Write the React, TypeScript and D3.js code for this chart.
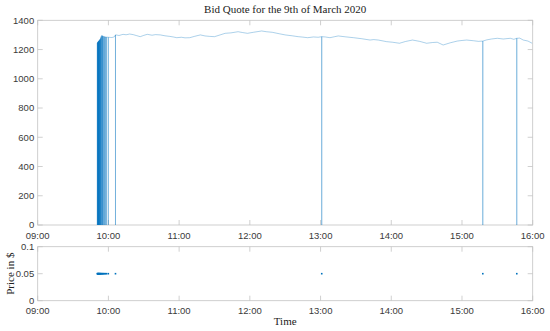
import React from 'react';
import * as d3 from 'd3';

const W = 550;
const H = 331;
const parse = d3.timeParse('%H:%M:%S');

// bid quote
const quoteTimes = [
  '09:55:40', '09:57:00', '09:59:40', '10:01:30', '10:03:00', '10:05:00', '10:06:30', '10:09:00',
  '10:12:24', '10:15:00', '10:18:00', '10:21:00', '10:24:00', '10:27:00', '10:30:00', '10:33:00',
  '10:37:00', '10:40:00', '10:44:00', '10:48:00', '10:52:00', '10:55:00', '10:58:00', '11:02:00',
  '11:05:00', '11:09:00', '11:13:00', '11:18:00', '11:22:00', '11:26:00', '11:30:00', '11:34:00',
  '11:39:00', '11:44:00', '11:50:00', '11:54:00', '11:58:00', '12:03:00', '12:10:00', '12:14:00',
  '12:19:00', '12:25:00', '12:30:00', '12:36:00', '12:41:00', '12:45:00', '12:49:00', '12:54:00',
  '12:58:00', '13:04:00', '13:08:00', '13:12:00', '13:15:00', '13:21:00', '13:28:00', '13:35:00',
  '13:42:00', '13:45:00', '13:49:00', '13:56:00', '14:01:00', '14:07:00', '14:12:00', '14:18:00',
  '14:24:00', '14:30:00', '14:35:00', '14:39:00', '14:44:00', '14:50:00', '14:56:00', '15:00:00',
  '15:04:00', '15:10:00', '15:14:00', '15:21:00', '15:25:00', '15:30:00', '15:35:00', '15:41:00',
  '15:44:00', '15:49:00', '15:52:00', '15:56:00', '15:59:30',
];
const quoteValues = [
  1293, 1288, 1284, 1283, 1282, 1287, 1300, 1296,
  1304, 1301, 1306, 1302, 1295, 1288, 1297, 1304,
  1298, 1302, 1300, 1294, 1290, 1286, 1281, 1284,
  1280, 1281, 1290, 1300, 1293, 1290, 1288, 1298,
  1311, 1314, 1322, 1316, 1311, 1318, 1327, 1322,
  1318, 1308, 1300, 1294, 1288, 1285, 1281, 1286,
  1284, 1286, 1281, 1288, 1293, 1287, 1281, 1274,
  1265, 1268, 1265, 1254, 1250, 1243, 1255, 1265,
  1256, 1243, 1248, 1250, 1231, 1246, 1258, 1262,
  1265, 1260, 1256, 1266, 1272, 1277, 1272, 1277,
  1270, 1278, 1265, 1258, 1243,
];

// moments where the bid quote drops to zero, with the level just before
const dropTimes = [
  '09:50:36', '09:50:48', '09:51:00', '09:51:12', '09:51:24', '09:51:36', '09:51:48', '09:52:00',
  '09:52:15', '09:52:30', '09:52:45', '09:53:00', '09:53:20', '09:53:40', '09:54:00', '09:54:30',
  '09:55:00', '09:55:20', '09:56:00', '09:56:40', '09:57:30', '09:58:20', '09:59:54', '10:06:00',
  '13:01:00', '15:17:40', '15:46:30',
];
const dropLevels = [
  1245, 1247, 1250, 1252, 1255, 1256, 1258, 1260,
  1262, 1265, 1268, 1270, 1275, 1282, 1290, 1296,
  1292, 1290, 1289, 1287, 1286, 1285, 1284, 1300,
  1288, 1258, 1277,
];
const priceValue = 0.05;

const yTicksTop = [0, 200, 400, 600, 800, 1000, 1200, 1400];
const yTicksBottom = [0, 0.05, 0.1];
const hourTicks = ['09:00:00', '10:00:00', '11:00:00', '12:00:00', '13:00:00', '14:00:00', '15:00:00', '16:00:00'];

const left = 37.7;
const right = 532.7;
const topPanel = { y0: 20.3, y1: 225 };
const botPanel = { y0: 246.7, y1: 300.7 };

const boxColor = '#c4c4c4';
const tickText = '#3a3a3a';
const lineBlue = '#0072BD';
const sans = 'Liberation Sans, Arial, sans-serif';
const serif = 'Liberation Serif, Times New Roman, serif';

type Pt = { t: Date; v: number };

export default function App() {
  const x = d3
    .scaleTime()
    .domain([parse('09:00:00')!, parse('16:00:00')!])
    .range([left, right]);
  const yTop = d3.scaleLinear().domain([0, 1400]).range([topPanel.y1, topPanel.y0]);
  const yBot = d3.scaleLinear().domain([0, 0.1]).range([botPanel.y1, botPanel.y0]);

  // merge quotes and the zero drops into one series
  const pts: Pt[] = quoteTimes.map((s, i) => ({ t: parse(s)!, v: quoteValues[i] }));
  dropTimes.forEach((s, i) => {
    const t = parse(s)!;
    pts.push({ t: new Date(t.getTime() - 400), v: dropLevels[i] });
    pts.push({ t, v: 0 });
    pts.push({ t: new Date(t.getTime() + 400), v: dropLevels[i] });
  });
  pts.sort((a, b) => a.t.getTime() - b.t.getTime());

  const line = d3
    .line<Pt>()
    .x(d => x(d.t))
    .y(d => yTop(d.v));

  const hours = hourTicks.map(s => parse(s)!);
  const fmt = d3.timeFormat('%H:%M');
  const tl = 5;

  const panelFrame = (y0: number, y1: number, yScale: d3.ScaleLinear<number, number>, ticks: number[], tf: (v: number) => string) => (
    <g>
      <rect x={left} y={y0} width={right - left} height={y1 - y0} fill="#fff" stroke={boxColor} strokeWidth={0.8} />
      {hours.map((h, i) => (
        <g key={'h' + i}>
          <line x1={x(h)} x2={x(h)} y1={y1} y2={y1 - tl} stroke={boxColor} strokeWidth={0.8} />
          <line x1={x(h)} x2={x(h)} y1={y0} y2={y0 + tl} stroke={boxColor} strokeWidth={0.8} />
          <text x={x(h)} y={y1 + 13.5} textAnchor="middle" fontFamily={sans} fontSize={9.5} fill={tickText}>
            {fmt(h)}
          </text>
        </g>
      ))}
      {ticks.map((v, i) => (
        <g key={'y' + i}>
          <line x1={left} x2={left + tl} y1={yScale(v)} y2={yScale(v)} stroke={boxColor} strokeWidth={0.8} />
          <line x1={right} x2={right - tl} y1={yScale(v)} y2={yScale(v)} stroke={boxColor} strokeWidth={0.8} />
          <text x={left - 3.5} y={yScale(v) + 3.3} textAnchor="end" fontFamily={sans} fontSize={9.5} fill={tickText}>
            {tf(v)}
          </text>
        </g>
      ))}
    </g>
  );

  return (
    <svg width={W} height={H} style={{ position: 'absolute', left: 0, top: 0 }}>
      <rect width={W} height={H} fill="#fff" />
      {panelFrame(topPanel.y0, topPanel.y1, yTop, yTicksTop, v => String(v))}
      <path d={line(pts) || ''} fill="none" stroke={lineBlue} strokeWidth={0.5} strokeOpacity={0.65} />
      <text x={(left + right) / 2} y={13} textAnchor="middle" fontFamily={serif} fontSize={11} fill="#222">
        Bid Quote for the 9th of March 2020
      </text>

      {panelFrame(botPanel.y0, botPanel.y1, yBot, yTicksBottom, v => (v === 0 ? '0' : String(v)))}
      {dropTimes.map((s, i) => (
        <rect
          key={'p' + i}
          x={x(parse(s)!) - 0.8}
          y={yBot(priceValue) - 0.8}
          width={1.6}
          height={1.6}
          fill={lineBlue}
        />
      ))}
      <text
        transform={`translate(13.5,${(botPanel.y0 + botPanel.y1) / 2}) rotate(-90)`}
        textAnchor="middle"
        fontFamily={serif}
        fontSize={11}
        fill="#222"
      >
        Price in $
      </text>
      <text x={(left + right) / 2} y={325} textAnchor="middle" fontFamily={serif} fontSize={11} fill="#222">
        Time
      </text>
    </svg>
  );
}
